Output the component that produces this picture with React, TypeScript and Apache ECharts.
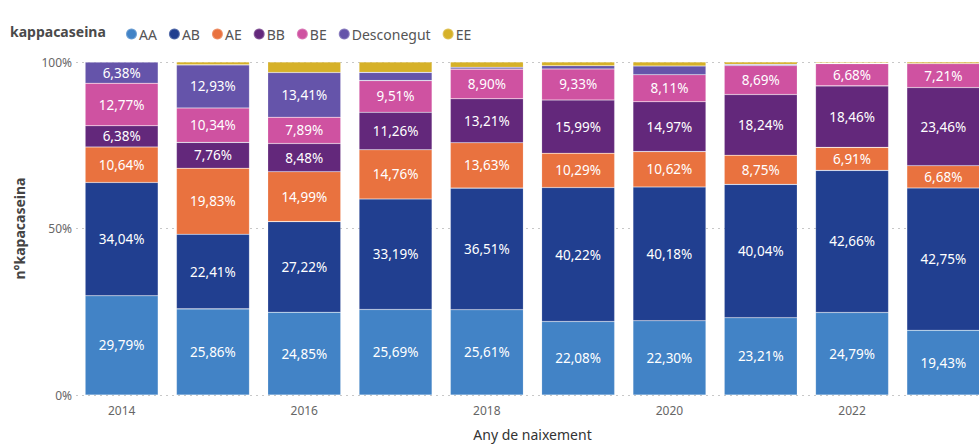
import React, { useEffect, useRef } from "react";
import * as echarts from "echarts";

const years = ["2014", "2015", "2016", "2017", "2018", "2019", "2020", "2021", "2022", "2023"];
const seriesNames = ["AA", "AB", "AE", "BB", "BE", "Desconegut", "EE"];
const colors = ["#4283C6", "#213F90", "#E9723F", "#63287B", "#CF52A1", "#6554AA", "#D6B128"];

const AA = [29.79, 25.86, 24.85, 25.69, 25.61, 22.08, 22.3, 23.21, 24.79, 19.43];
const AB = [34.04, 22.41, 27.22, 33.19, 36.51, 40.22, 40.18, 40.04, 42.66, 42.75];
const AE = [10.64, 19.83, 14.99, 14.76, 13.63, 10.29, 10.62, 8.75, 6.91, 6.68];
const BB = [6.38, 7.76, 8.48, 11.26, 13.21, 15.99, 14.97, 18.24, 18.46, 23.46];
const BE = [12.77, 10.34, 7.89, 9.51, 8.9, 9.33, 8.11, 8.69, 6.68, 7.21];
const Desconegut = [6.38, 12.93, 13.41, 2.46, 0.57, 0.97, 2.62, 0.36, 0.17, 0.0];
const EE = [0.0, 0.87, 3.16, 3.13, 1.57, 1.12, 1.2, 0.71, 0.33, 0.47];

const allValues = [AA, AB, AE, BB, BE, Desconegut, EE];
const LABEL_MIN = 5;

const fmt = (v: number) => v.toFixed(2).replace(".", ",") + "%";

export default function App() {
  const ref = useRef<HTMLDivElement>(null);
  useEffect(() => {
    if (!ref.current) return;
    const chart = echarts.init(ref.current, null, { renderer: "svg" });
    const font = "'Noto Sans', 'Open Sans', sans-serif";
    const series = seriesNames.map((name, i) => ({
      name,
      type: "bar",
      stack: "total",
      barCategoryGap: "20%",
      itemStyle: { color: colors[i], borderColor: "rgba(255,255,255,0.25)", borderWidth: 0.6 },
      label: {
        show: true,
        position: "inside",
        color: "#ffffff",
        fontSize: 13.5,
        fontFamily: font,
        formatter: (p: any) => fmt(p.value),
      },
      data: allValues[i].map((v) => ({
        value: v,
        label: { show: v >= LABEL_MIN },
      })),
    }));
    chart.setOption({
      animation: false,
      textStyle: { fontFamily: font },
      graphic: [
        {
          type: "text",
          left: 10,
          top: 24,
          style: {
            text: "kappacaseina",
            fontFamily: font,
            fontSize: 14,
            fontWeight: "bold",
            fill: "#4a4a4a",
          },
        },
      ],
      legend: {
        left: 120,
        top: 22,
        icon: "circle",
        itemWidth: 11,
        itemHeight: 11,
        itemGap: 11,
        textStyle: { fontSize: 14, color: "#555555", fontFamily: font, padding: [0, 0, 0, -3] },
        data: seriesNames,
      },
      grid: { left: 76, right: 0, top: 62, bottom: 47, containLabel: false },
      xAxis: {
        type: "category",
        data: years,
        axisLine: { show: false },
        axisTick: { show: false },
        axisLabel: { interval: 1, color: "#666666", fontSize: 12, margin: 9, fontFamily: font },
        name: "Any de naixement",
        nameLocation: "middle",
        nameGap: 32,
        nameTextStyle: { fontSize: 14, color: "#333333", fontFamily: font },
      },
      yAxis: {
        type: "value",
        min: 0,
        max: 100,
        interval: 50,
        axisLabel: {
          formatter: (v: number) => v + "%",
          color: "#666666",
          fontSize: 12,
          margin: 4,
          fontFamily: font,
        },
        splitLine: { show: true, lineStyle: { type: [2, 4], color: "#c8c8c8", width: 1 } },
        name: "n°kapacaseina",
        nameLocation: "middle",
        nameGap: 50,
        nameTextStyle: { fontSize: 14, color: "#444444", fontWeight: "bold", fontFamily: font },
      },
      series,
    });
    return () => chart.dispose();
  }, []);
  return (
    <div
      ref={ref}
      style={{ position: "fixed", left: 0, top: 0, width: 989, height: 446, background: "#ffffff" }}
    />
  );
}
